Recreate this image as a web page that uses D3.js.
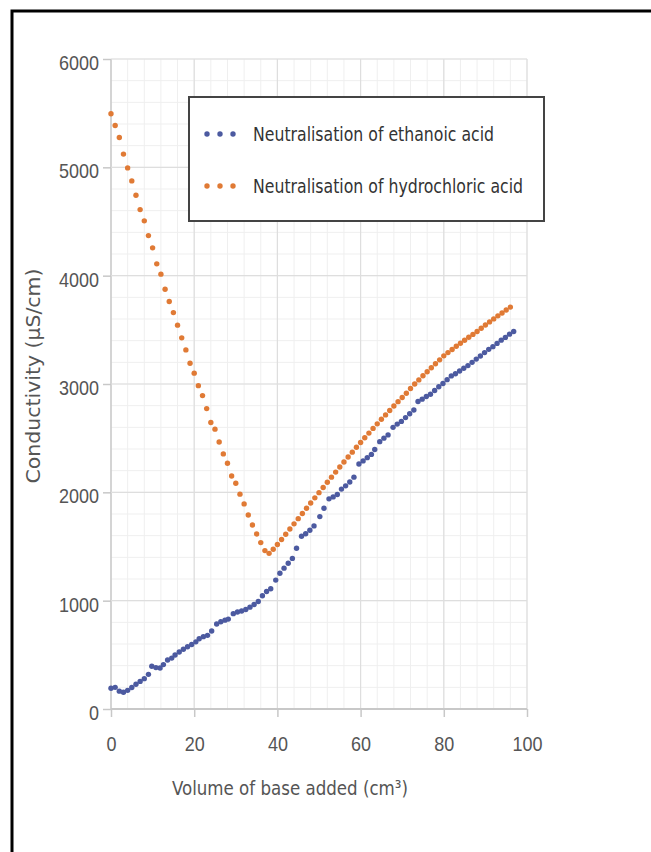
<!DOCTYPE html>
<html>
<head>
<meta charset="utf-8">
<script src="https://d3js.org/d3.v7.min.js"></script>
<style>
  body { margin: 0; background: #fff; }
  svg { display: block; font-family: "DejaVu Sans", "Open Sans", sans-serif; font-stretch: condensed; }
  .tick text { fill: #555; font-size: 21px; }
  .axis path { display: none; }
  .axis line { stroke: #c8c8c8; stroke-width: 1.5; }
</style>
</head>
<body>
<svg id="chart" width="651" height="852"></svg>
<script>
// conductivity readings (uS/cm) against volume of base added (cm3)
var hclX = d3.range(0, 97);
var hclY = [5494, 5386, 5275, 5122, 4995, 4875, 4743, 4610, 4506, 4370,
  4257, 4109, 4014, 3875, 3761, 3659, 3543, 3426, 3315, 3192,
  3100, 2985, 2893, 2773, 2644, 2583, 2465, 2355, 2268, 2151,
  2084, 1983, 1893, 1791, 1699, 1616, 1536, 1462, 1437, 1474,
  1518, 1565, 1613, 1661, 1709, 1757, 1805, 1853, 1901, 1949,
  1997, 2045, 2093, 2140, 2187, 2234, 2280, 2326, 2371, 2416,
  2460, 2504, 2547, 2590, 2632, 2674, 2715, 2756, 2797, 2837,
  2876, 2915, 2958, 3000, 3038, 3076, 3113, 3150, 3187, 3223,
  3260, 3290, 3319, 3348, 3376, 3404, 3431, 3458, 3485, 3515,
  3545, 3573, 3601, 3629, 3656, 3683, 3710];

var ethX = [0, 1, 2, 3, 4, 5, 6, 7, 8, 9, 9.8, 10.8, 11.8, 12.6, 13.6, 14.6, 15.4, 16.4, 17.4, 18.4,
  19.4, 20.4, 21.2, 22.2, 23.2, 24.2, 25.4, 26.4, 27.4, 28.2, 29.4, 30.4, 31.4, 32.4, 33.4, 34.4,
  35.4, 36.4, 37.4, 38.4, 39.6, 40.6, 41.6, 42.6, 43.6, 44.6, 45.8, 46.8, 47.8, 48.8, 50.2, 51.2,
  52.4, 53.4, 54.4, 55.4, 56.4, 57.4, 58.4, 59.6, 60.6, 61.6, 62.6, 63.4, 64.6, 65.6, 66.6, 67.8,
  68.8, 69.8, 70.8, 71.8, 72.8, 73.8, 74.8, 75.8, 76.8, 77.8, 78.8, 79.8, 80.8, 81.8, 82.8, 83.8,
  84.8, 85.8, 86.8, 87.8, 88.8, 89.8, 90.8, 91.8, 92.8, 93.8, 94.8, 95.8, 96.8];
var ethY = [191, 200, 165, 155, 172, 198, 228, 255, 280, 320, 395, 382, 378, 410, 452, 470, 498, 526, 552, 575,
  595, 620, 648, 668, 680, 720, 785, 805, 820, 830, 880, 895, 905, 918, 940, 965,
  992, 1045, 1085, 1110, 1190, 1253, 1300, 1345, 1390, 1484, 1595, 1618, 1650, 1690, 1776, 1853,
  1940, 1958, 1980, 2030, 2060, 2095, 2140, 2262, 2290, 2320, 2350, 2395, 2468, 2500, 2530, 2600,
  2630, 2655, 2690, 2725, 2760, 2838, 2860, 2885, 2905, 2940, 2975, 3005, 3040, 3075, 3095, 3120,
  3145, 3170, 3200, 3230, 3258, 3290, 3320, 3345, 3375, 3405, 3430, 3460, 3484];

var xTicks = [0, 20, 40, 60, 80, 100];
var yTicks = [0, 1000, 2000, 3000, 4000, 5000, 6000];
var seriesNames = ["Neutralisation of ethanoic acid", "Neutralisation of hydrochloric acid"];
var seriesColors = ["#4c5aa0", "#e07a35"];

var svg = d3.select("#chart");

// frame round the figure (only top and left edges show)
svg.append("rect")
  .attr("x", 12).attr("y", 11).attr("width", 700).attr("height", 900)
  .attr("fill", "none").attr("stroke", "#000").attr("stroke-width", 3);

var x = d3.scaleLinear().domain([0, 100]).range([111, 527]);
var y = d3.scaleLinear().domain([0, 6000]).range([709, 59]);

var g = svg.append("g");

// minor grid
g.selectAll("line.minx").data(d3.range(0, 101, 4)).enter().append("line")
  .attr("x1", d => x(d)).attr("x2", d => x(d)).attr("y1", y(0)).attr("y2", y(6000))
  .attr("stroke", "#efefef").attr("stroke-width", 1);
g.selectAll("line.miny").data(d3.range(0, 6001, 200)).enter().append("line")
  .attr("x1", x(0)).attr("x2", x(100)).attr("y1", d => y(d)).attr("y2", d => y(d))
  .attr("stroke", "#efefef").attr("stroke-width", 1);

// major grid
g.selectAll("line.majx").data(xTicks).enter().append("line")
  .attr("x1", d => x(d)).attr("x2", d => x(d)).attr("y1", y(0)).attr("y2", y(6000))
  .attr("stroke", d => d == 0 ? "#c8c8c8" : "#dedede").attr("stroke-width", d => d == 0 ? 1.5 : 1.2);
g.selectAll("line.majy").data(yTicks).enter().append("line")
  .attr("x1", x(0)).attr("x2", x(100)).attr("y1", d => y(d)).attr("y2", d => y(d))
  .attr("stroke", d => d == 0 ? "#c8c8c8" : "#dedede").attr("stroke-width", d => d == 0 ? 2 : 1.2);

// axes, labels squeezed to the narrow face of the original
var fmt = d3.format("d");
function squeeze(sel) {
  sel.attr("textLength", function () { return this.textContent.length * 10; })
    .attr("lengthAdjust", "spacingAndGlyphs");
}
svg.append("g").attr("class", "axis")
  .attr("transform", "translate(" + x(0) + ",0)")
  .call(d3.axisLeft(y).tickValues(yTicks).tickFormat(fmt).tickSize(8).tickPadding(4))
  .selectAll("text").attr("dy", "0.5em").call(squeeze);
svg.append("g").attr("class", "axis")
  .attr("transform", "translate(0," + y(0) + ")")
  .call(d3.axisBottom(x).tickValues(xTicks).tickFormat(fmt).tickSize(8).tickPadding(19))
  .selectAll("text").call(squeeze);

// axis titles
svg.append("text")
  .attr("transform", "translate(40,376) rotate(-90)")
  .attr("text-anchor", "middle")
  .attr("fill", "#555").attr("font-size", 20)
  .attr("textLength", 215).attr("lengthAdjust", "spacingAndGlyphs")
  .text("Conductivity (μS/cm)");
svg.append("text")
  .attr("x", 290).attr("y", 795)
  .attr("text-anchor", "middle")
  .attr("fill", "#555").attr("font-size", 20)
  .attr("textLength", 236).attr("lengthAdjust", "spacingAndGlyphs")
  .text("Volume of base added (cm³)");

// data points
var ethData = ethX.map((d, i) => [d, ethY[i]]);
var hclData = hclX.map((d, i) => [d, hclY[i]]);

g.selectAll("circle.eth").data(ethData).enter().append("circle")
  .attr("cx", d => x(d[0])).attr("cy", d => y(d[1])).attr("r", 2.7)
  .attr("fill", seriesColors[0]);
g.selectAll("circle.hcl").data(hclData).enter().append("circle")
  .attr("cx", d => x(d[0])).attr("cy", d => y(d[1])).attr("r", 2.7)
  .attr("fill", seriesColors[1]);

// legend
var legendWidths = [241, 270];
var lg = svg.append("g");
lg.append("rect")
  .attr("x", 189).attr("y", 97).attr("width", 355).attr("height", 124)
  .attr("fill", "#fff").attr("stroke", "#444").attr("stroke-width", 2);
seriesNames.forEach(function (name, i) {
  var ly = 134 + i * 52;
  [0, 1, 2].forEach(function (k) {
    lg.append("circle").attr("cx", 207 + k * 13).attr("cy", ly).attr("r", 2.7)
      .attr("fill", seriesColors[i]);
  });
  lg.append("text").attr("x", 253).attr("y", ly).attr("dy", "0.35em")
    .attr("fill", "#333").attr("font-size", 19)
    .attr("textLength", legendWidths[i]).attr("lengthAdjust", "spacingAndGlyphs")
    .text(name);
});
</script>
</body>
</html>
